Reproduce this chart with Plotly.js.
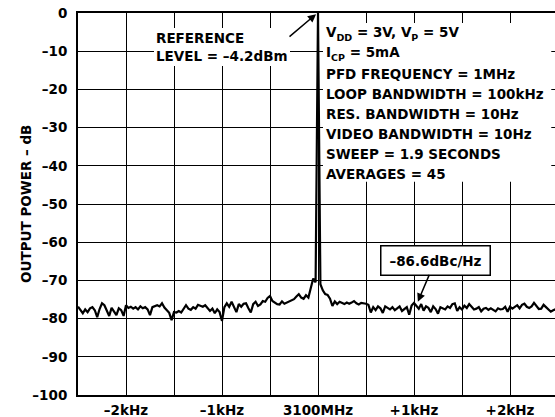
<!DOCTYPE html>
<html>
<head>
<meta charset="utf-8">
<script src="https://cdn.plot.ly/plotly-3.0.1.min.js"></script>
<style>
  html, body { margin: 0; padding: 0; background: #fff; }
  #chart { width: 555px; height: 417px; }
</style>
</head>
<body>
<div id="chart"></div>
<script>
// Spectrum analyser sweep: offset from the 3100MHz carrier, in kHz
const sweepStartKHz = -2.5;
const sweepStepKHz = 0.025;

// Measured output power, dB (one value per sweep bin)
const powerDb = [
  -76.9, -77.7, -78.6, -77.6, -78.3, -77.3, -77.0, -77.8, -79.6, -77.5,
  -76.0, -76.5, -77.7, -79.3, -77.2, -78.0, -79.1, -77.3, -77.8, -79.3,
  -76.5, -77.2, -76.9, -77.4, -77.0, -77.6, -76.8, -77.3, -77.0, -77.6,
  -79.1, -77.0, -76.8, -76.5, -76.8, -76.0, -77.1, -77.7, -78.5, -80.4,
  -78.3, -78.4, -78.0, -78.4, -77.3, -76.5, -77.4, -77.7, -77.0, -77.4,
  -76.4, -76.6, -76.9, -76.5, -77.3, -78.0, -77.4, -78.6, -77.6, -78.3,
  -80.6, -77.0, -76.0, -76.9, -75.6, -77.2, -78.3, -76.2, -76.9, -76.1,
  -76.0, -77.3, -78.4, -76.2, -75.6, -76.7, -76.3, -75.4, -75.6, -74.6,
  -74.1, -75.4, -75.8, -76.2, -76.3, -75.5, -76.1, -75.8, -75.4, -75.0,
  -74.9, -74.2, -73.6, -74.5, -74.8, -73.9, -74.5, -72.0, -69.5, -70.5,
  0,
  -71.0, -72.6, -73.6, -73.8, -74.8, -76.7, -75.5, -76.2, -75.6, -75.9,
  -76.2, -75.8, -76.1, -75.8, -75.4, -76.0, -76.3, -75.9, -76.0, -76.1,
  -76.4, -78.4, -77.0, -77.8, -76.8, -77.3, -78.5, -76.8, -77.2, -77.6,
  -77.0, -77.8, -77.3, -76.8, -78.0, -77.6, -77.0, -79.0, -76.6, -75.9,
  -76.8, -77.4, -76.2, -77.9, -76.8, -77.2, -78.3, -76.8, -77.5, -78.7,
  -77.0,
  -77.2, -77.6, -76.8, -77.2, -76.2, -76.0, -78.0, -77.0, -77.6, -76.6,
  -77.2, -76.2, -76.9, -77.6, -77.4, -77.0, -78.1, -77.4, -77.2, -77.7,
  -77.3, -77.8, -78.1, -77.3, -77.6, -77.5, -76.9, -78.2, -76.9, -77.4,
  -77.0, -76.5, -77.3, -76.4, -76.1, -76.9, -77.2, -76.8, -75.9, -76.8,
  -77.5, -77.4, -76.4, -77.0, -77.6, -78.2, -77.8, -77.6, -77.3
];

const xTickVals = [-2, -1, 0, 1, 2];
const xTickText = ['–2kHz', '–1kHz', '3100MHz', '+1kHz', '+2kHz'];
const xMinorGrid = [-1.5, -0.5, 0.5, 1.5];
const yTickVals = [0, -10, -20, -30, -40, -50, -60, -70, -80, -90, -100];
const yTickText = ['0', '–10', '–20', '–30', '–40', '–50', '–60', '–70', '–80', '–90', '–100'];
const yTitle = 'OUTPUT POWER – dB';

const SUB = (s) => '<span style="font-size:9.5px;baseline-shift:-3.5px">' + s + '</span>';
const conditionLines = [
  'V' + SUB('DD') + ' = 3V, V' + SUB('P') + ' = 5V',
  'I' + SUB('CP') + ' = 5mA',
  'PFD FREQUENCY = 1MHz',
  'LOOP BANDWIDTH = 100kHz',
  'RES. BANDWIDTH = 10Hz',
  'VIDEO BANDWIDTH = 10Hz',
  'SWEEP = 1.9 SECONDS',
  'AVERAGES = 45'
];
const refLevelText = 'REFERENCE<br>LEVEL = –4.2dBm';
const noiseText = '–86.6dBc/Hz';

const FONT = 'DejaVu Sans, Arial, sans-serif';
const FS = 13.5;
const bold = (size) => ({ family: FONT, size: size || FS, color: '#000', weight: 'bold' });

const trace = {
  type: 'scatter',
  mode: 'lines',
  x0: sweepStartKHz,
  dx: sweepStepKHz,
  y: powerDb,
  line: { color: '#000', width: 2.2 },
  hoverinfo: 'skip'
};

// Conditions text block (one annotation per line)
const condTop = -5.3, condStep = -5.27;
const annotations = conditionLines.map((t, i) => ({
  xref: 'x', yref: 'y',
  x: 0.083, y: condTop + i * condStep,
  xanchor: 'left', yanchor: 'middle',
  text: t, showarrow: false, align: 'left',
  font: bold(), borderpad: 0, borderwidth: 0
}));

annotations.push({
  xref: 'x', yref: 'y', x: -1.0, y: -8.9,
  xanchor: 'center', yanchor: 'middle',
  text: refLevelText, showarrow: false, align: 'left',
  font: bold(), bgcolor: '#fff', borderpad: 2, borderwidth: 0
});
annotations.push({
  xref: 'x', yref: 'y', x: -0.02, y: -0.3,
  axref: 'x', ayref: 'y', ax: -0.3125, ay: -6.5,
  text: '', showarrow: true, arrowhead: 2, arrowsize: 1.1, arrowwidth: 1.5,
  arrowcolor: '#000'
});
// Noise-level label box, with its arrow pointing at the noise floor
annotations.push({
  xref: 'x', yref: 'y', x: 1.04, y: -75.6,
  axref: 'x', ayref: 'y', ax: 1.224, ay: -64.7,
  text: noiseText, showarrow: true, arrowhead: 2, arrowsize: 1.1, arrowwidth: 1.5,
  arrowcolor: '#000',
  width: 104, height: 24,
  font: bold(), bgcolor: '#fff', bordercolor: '#000', borderwidth: 1.5, borderpad: 2
});
// Y axis title (placed as rotated text for exact position)
annotations.push({
  xref: 'paper', yref: 'paper', x: -0.109, y: 0.5,
  xanchor: 'center', yanchor: 'middle', textangle: -90,
  text: yTitle, showarrow: false, font: bold()
});

const layout = {
  width: 555, height: 417,
  margin: { l: 78, r: 0, t: 13, b: 22, pad: 0 },
  paper_bgcolor: '#fff', plot_bgcolor: '#fff',
  showlegend: false,
  font: bold(),
  xaxis: {
    range: [-2.5, 2.46875],
    tickmode: 'array', tickvals: xTickVals, ticktext: xTickText,
    ticks: '', showgrid: true, gridcolor: '#000', gridwidth: 1,
    minor: { tickmode: 'array', tickvals: xMinorGrid, ticks: '', showgrid: true, gridcolor: '#000', gridwidth: 1 },
    zeroline: false, showline: true, mirror: true, linecolor: '#000', linewidth: 2,
    tickfont: bold(), ticklabelstandoff: 2, fixedrange: true
  },
  yaxis: {
    range: [-100, 0],
    tickmode: 'array', tickvals: yTickVals, ticktext: yTickText,
    ticks: '', showgrid: true, gridcolor: '#000', gridwidth: 1,
    zeroline: false, showline: true, mirror: false, linecolor: '#000', linewidth: 2,
    tickfont: bold(), ticklabelstandoff: 6, fixedrange: true
  },
  shapes: [{
    type: 'rect', xref: 'x', yref: 'y', layer: 'above',
    x0: 0.052, x1: 2.43, y0: -2.6, y1: -44.2,
    fillcolor: '#fff', line: { width: 0 }
  }],
  annotations: annotations
};

Plotly.newPlot('chart', [trace], layout, { staticPlot: true, displayModeBar: false });
</script>
</body>
</html>
